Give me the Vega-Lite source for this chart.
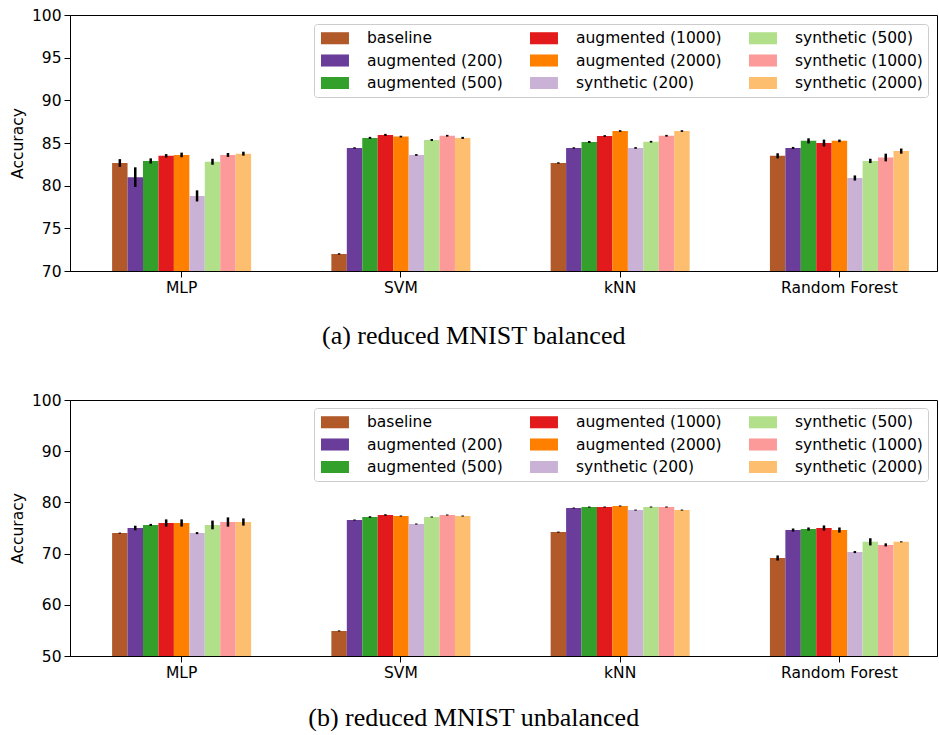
{
  "$schema": "https://vega.github.io/schema/vega-lite/v6.json",
  "padding": {"left": 9, "top": 7, "right": 1, "bottom": 0},
  "background": "white",
  "config": {
    "view": {"stroke": "black", "strokeWidth": 1},
    "axis": {"domainColor": "black", "tickColor": "black", "labelColor": "black", "titleColor": "black", "labelFont": "DejaVu Sans", "titleFont": "DejaVu Sans", "labelFontSize": 15.5, "titleFontSize": 15.5, "titleFontWeight": "normal", "grid": false, "tickSize": 6, "labelPadding": 3},
    "legend": {"labelFont": "DejaVu Sans", "labelFontSize": 15.5, "labelColor": "black"}
  },
  "datasets": {
    "balanced": [
      {"m": "MLP", "s": "baseline", "v": 82.66, "lo": 82.21, "hi": 83.11},
      {"m": "MLP", "s": "augmented (200)", "v": 81.0, "lo": 79.85, "hi": 82.15},
      {"m": "MLP", "s": "augmented (500)", "v": 82.9, "lo": 82.6, "hi": 83.2},
      {"m": "MLP", "s": "augmented (1000)", "v": 83.5, "lo": 83.3, "hi": 83.7},
      {"m": "MLP", "s": "augmented (2000)", "v": 83.6, "lo": 83.33, "hi": 83.87},
      {"m": "MLP", "s": "synthetic (200)", "v": 78.8, "lo": 78.15, "hi": 79.45},
      {"m": "MLP", "s": "synthetic (500)", "v": 82.8, "lo": 82.45, "hi": 83.15},
      {"m": "MLP", "s": "synthetic (1000)", "v": 83.6, "lo": 83.37, "hi": 83.83},
      {"m": "MLP", "s": "synthetic (2000)", "v": 83.75, "lo": 83.52, "hi": 83.98},
      {"m": "SVM", "s": "baseline", "v": 72.0, "lo": 71.92, "hi": 72.08},
      {"m": "SVM", "s": "augmented (200)", "v": 84.42, "lo": 84.34, "hi": 84.5},
      {"m": "SVM", "s": "augmented (500)", "v": 85.6, "lo": 85.48, "hi": 85.72},
      {"m": "SVM", "s": "augmented (1000)", "v": 85.95, "lo": 85.83, "hi": 86.07},
      {"m": "SVM", "s": "augmented (2000)", "v": 85.75, "lo": 85.65, "hi": 85.85},
      {"m": "SVM", "s": "synthetic (200)", "v": 83.6, "lo": 83.5, "hi": 83.7},
      {"m": "SVM", "s": "synthetic (500)", "v": 85.35, "lo": 85.23, "hi": 85.47},
      {"m": "SVM", "s": "synthetic (1000)", "v": 85.85, "lo": 85.75, "hi": 85.95},
      {"m": "SVM", "s": "synthetic (2000)", "v": 85.6, "lo": 85.48, "hi": 85.72},
      {"m": "kNN", "s": "baseline", "v": 82.66, "lo": 82.58, "hi": 82.74},
      {"m": "kNN", "s": "augmented (200)", "v": 84.42, "lo": 84.34, "hi": 84.5},
      {"m": "kNN", "s": "augmented (500)", "v": 85.12, "lo": 85.0, "hi": 85.24},
      {"m": "kNN", "s": "augmented (1000)", "v": 85.82, "lo": 85.72, "hi": 85.92},
      {"m": "kNN", "s": "augmented (2000)", "v": 86.4, "lo": 86.3, "hi": 86.5},
      {"m": "kNN", "s": "synthetic (200)", "v": 84.42, "lo": 84.32, "hi": 84.52},
      {"m": "kNN", "s": "synthetic (500)", "v": 85.15, "lo": 85.05, "hi": 85.25},
      {"m": "kNN", "s": "synthetic (1000)", "v": 85.85, "lo": 85.75, "hi": 85.95},
      {"m": "kNN", "s": "synthetic (2000)", "v": 86.4, "lo": 86.3, "hi": 86.5},
      {"m": "Random Forest", "s": "baseline", "v": 83.5, "lo": 83.2, "hi": 83.8},
      {"m": "Random Forest", "s": "augmented (200)", "v": 84.42, "lo": 84.3, "hi": 84.54},
      {"m": "Random Forest", "s": "augmented (500)", "v": 85.25, "lo": 84.95, "hi": 85.55},
      {"m": "Random Forest", "s": "augmented (1000)", "v": 85.0, "lo": 84.6, "hi": 85.4},
      {"m": "Random Forest", "s": "augmented (2000)", "v": 85.25, "lo": 85.1, "hi": 85.4},
      {"m": "Random Forest", "s": "synthetic (200)", "v": 80.9, "lo": 80.6, "hi": 81.2},
      {"m": "Random Forest", "s": "synthetic (500)", "v": 82.9, "lo": 82.65, "hi": 83.15},
      {"m": "Random Forest", "s": "synthetic (1000)", "v": 83.3, "lo": 82.85, "hi": 83.75},
      {"m": "Random Forest", "s": "synthetic (2000)", "v": 84.05, "lo": 83.75, "hi": 84.35}
    ],
    "unbalanced": [
      {"m": "MLP", "s": "baseline", "v": 74.0, "lo": 73.9, "hi": 74.1},
      {"m": "MLP", "s": "augmented (200)", "v": 75.0, "lo": 74.55, "hi": 75.45},
      {"m": "MLP", "s": "augmented (500)", "v": 75.6, "lo": 75.4, "hi": 75.8},
      {"m": "MLP", "s": "augmented (1000)", "v": 75.98, "lo": 75.28, "hi": 76.68},
      {"m": "MLP", "s": "augmented (2000)", "v": 75.98, "lo": 75.28, "hi": 76.68},
      {"m": "MLP", "s": "synthetic (200)", "v": 74.0, "lo": 73.8, "hi": 74.2},
      {"m": "MLP", "s": "synthetic (500)", "v": 75.6, "lo": 74.75, "hi": 76.45},
      {"m": "MLP", "s": "synthetic (1000)", "v": 76.17, "lo": 75.27, "hi": 77.07},
      {"m": "MLP", "s": "synthetic (2000)", "v": 76.17, "lo": 75.47, "hi": 76.87},
      {"m": "SVM", "s": "baseline", "v": 54.9, "lo": 54.8, "hi": 55.0},
      {"m": "SVM", "s": "augmented (200)", "v": 76.56, "lo": 76.46, "hi": 76.66},
      {"m": "SVM", "s": "augmented (500)", "v": 77.15, "lo": 77.0, "hi": 77.3},
      {"m": "SVM", "s": "augmented (1000)", "v": 77.54, "lo": 77.39, "hi": 77.69},
      {"m": "SVM", "s": "augmented (2000)", "v": 77.34, "lo": 77.24, "hi": 77.44},
      {"m": "SVM", "s": "synthetic (200)", "v": 75.78, "lo": 75.68, "hi": 75.88},
      {"m": "SVM", "s": "synthetic (500)", "v": 77.15, "lo": 77.05, "hi": 77.25},
      {"m": "SVM", "s": "synthetic (1000)", "v": 77.54, "lo": 77.44, "hi": 77.64},
      {"m": "SVM", "s": "synthetic (2000)", "v": 77.34, "lo": 77.24, "hi": 77.44},
      {"m": "kNN", "s": "baseline", "v": 74.2, "lo": 74.1, "hi": 74.3},
      {"m": "kNN", "s": "augmented (200)", "v": 78.9, "lo": 78.8, "hi": 79.0},
      {"m": "kNN", "s": "augmented (500)", "v": 79.1, "lo": 79.0, "hi": 79.2},
      {"m": "kNN", "s": "augmented (1000)", "v": 79.1, "lo": 79.0, "hi": 79.2},
      {"m": "kNN", "s": "augmented (2000)", "v": 79.3, "lo": 79.2, "hi": 79.4},
      {"m": "kNN", "s": "synthetic (200)", "v": 78.5, "lo": 78.4, "hi": 78.6},
      {"m": "kNN", "s": "synthetic (500)", "v": 79.1, "lo": 79.0, "hi": 79.2},
      {"m": "kNN", "s": "synthetic (1000)", "v": 79.1, "lo": 79.0, "hi": 79.2},
      {"m": "kNN", "s": "synthetic (2000)", "v": 78.5, "lo": 78.4, "hi": 78.6},
      {"m": "Random Forest", "s": "baseline", "v": 69.14, "lo": 68.64, "hi": 69.64},
      {"m": "Random Forest", "s": "augmented (200)", "v": 74.6, "lo": 74.3, "hi": 74.9},
      {"m": "Random Forest", "s": "augmented (500)", "v": 74.8, "lo": 74.5, "hi": 75.1},
      {"m": "Random Forest", "s": "augmented (1000)", "v": 75.0, "lo": 74.5, "hi": 75.5},
      {"m": "Random Forest", "s": "augmented (2000)", "v": 74.6, "lo": 74.1, "hi": 75.1},
      {"m": "Random Forest", "s": "synthetic (200)", "v": 70.3, "lo": 70.1, "hi": 70.5},
      {"m": "Random Forest", "s": "synthetic (500)", "v": 72.3, "lo": 71.6, "hi": 73.0},
      {"m": "Random Forest", "s": "synthetic (1000)", "v": 71.7, "lo": 71.4, "hi": 72.0},
      {"m": "Random Forest", "s": "synthetic (2000)", "v": 72.3, "lo": 72.2, "hi": 72.4}
    ]
  },
  "resolve": {"scale": {"y": "independent", "color": "independent"}, "legend": {"color": "independent"}},
  "spacing": 43,
  "vconcat": [
    {
      "data": {"name": "balanced"},
      "width": 867,
      "height": 256,
      "title": {"text": "(a) reduced MNIST balanced", "orient": "bottom", "frame": "bounds", "anchor": "middle", "font": "Liberation Serif", "fontSize": 26, "fontWeight": "normal", "offset": 27, "color": "black"},
      "encoding": {
        "x": {"field": "m", "type": "nominal", "sort": ["MLP", "SVM", "kNN", "Random Forest"], "scale": {"paddingInner": 0.366, "paddingOuter": 0.16, "align": 0.6}, "axis": {"title": null, "labelAngle": 0}},
        "xOffset": {"field": "s", "type": "nominal", "scale": {"domain": ["baseline", "augmented (200)", "augmented (500)", "augmented (1000)", "augmented (2000)", "synthetic (200)", "synthetic (500)", "synthetic (1000)", "synthetic (2000)"], "paddingInner": 0, "paddingOuter": 0}}
      },
      "layer": [
        {
          "mark": {"type": "bar", "clip": true},
          "encoding": {
            "y": {"field": "v", "type": "quantitative", "scale": {"domain": [70, 100], "zero": false, "nice": false}, "axis": {"title": "Accuracy", "values": [70, 75, 80, 85, 90, 95, 100], "titlePadding": 6}},
            "color": {"field": "s", "type": "nominal", "scale": {"domain": ["baseline", "augmented (200)", "augmented (500)", "augmented (1000)", "augmented (2000)", "synthetic (200)", "synthetic (500)", "synthetic (1000)", "synthetic (2000)"], "range": ["#b15928", "#6a3d9a", "#33a02c", "#e31a1c", "#ff7f00", "#cab2d6", "#b2df8a", "#fb9a99", "#fdbf6f"]},
              "legend": {"title": null, "orient": "none", "legendX": 244, "legendY": 9, "columns": 3, "columnPadding": 25, "rowPadding": 4.5, "labelOffset": 30, "symbolType": "M-0.78,-0.67H2.33V0.67H-0.78Z", "symbolSize": 324, "symbolStrokeWidth": 0, "fillColor": "white", "strokeColor": "#cccccc", "cornerRadius": 3, "padding": 5}}
          }
        },
        {
          "mark": {"type": "rule", "color": "black", "strokeWidth": 2.5},
          "encoding": {
            "y": {"field": "lo", "type": "quantitative"},
            "y2": {"field": "hi"}
          }
        }
      ]
    },
    {
      "data": {"name": "unbalanced"},
      "width": 867,
      "height": 256,
      "title": {"text": "(b) reduced MNIST unbalanced", "orient": "bottom", "frame": "bounds", "anchor": "middle", "font": "Liberation Serif", "fontSize": 26, "fontWeight": "normal", "offset": 24, "color": "black"},
      "encoding": {
        "x": {"field": "m", "type": "nominal", "sort": ["MLP", "SVM", "kNN", "Random Forest"], "scale": {"paddingInner": 0.366, "paddingOuter": 0.16, "align": 0.6}, "axis": {"title": null, "labelAngle": 0}},
        "xOffset": {"field": "s", "type": "nominal", "scale": {"domain": ["baseline", "augmented (200)", "augmented (500)", "augmented (1000)", "augmented (2000)", "synthetic (200)", "synthetic (500)", "synthetic (1000)", "synthetic (2000)"], "paddingInner": 0, "paddingOuter": 0}}
      },
      "layer": [
        {
          "mark": {"type": "bar", "clip": true},
          "encoding": {
            "y": {"field": "v", "type": "quantitative", "scale": {"domain": [50, 100], "zero": false, "nice": false}, "axis": {"title": "Accuracy", "values": [50, 60, 70, 80, 90, 100], "titlePadding": 6}},
            "color": {"field": "s", "type": "nominal", "scale": {"domain": ["baseline", "augmented (200)", "augmented (500)", "augmented (1000)", "augmented (2000)", "synthetic (200)", "synthetic (500)", "synthetic (1000)", "synthetic (2000)"], "range": ["#b15928", "#6a3d9a", "#33a02c", "#e31a1c", "#ff7f00", "#cab2d6", "#b2df8a", "#fb9a99", "#fdbf6f"]},
              "legend": {"title": null, "orient": "none", "legendX": 244, "legendY": 8, "columns": 3, "columnPadding": 25, "rowPadding": 4.5, "labelOffset": 30, "symbolType": "M-0.78,-0.67H2.33V0.67H-0.78Z", "symbolSize": 324, "symbolStrokeWidth": 0, "fillColor": "white", "strokeColor": "#cccccc", "cornerRadius": 3, "padding": 5}}
          }
        },
        {
          "mark": {"type": "rule", "color": "black", "strokeWidth": 2.5},
          "encoding": {
            "y": {"field": "lo", "type": "quantitative"},
            "y2": {"field": "hi"}
          }
        }
      ]
    }
  ]
}
